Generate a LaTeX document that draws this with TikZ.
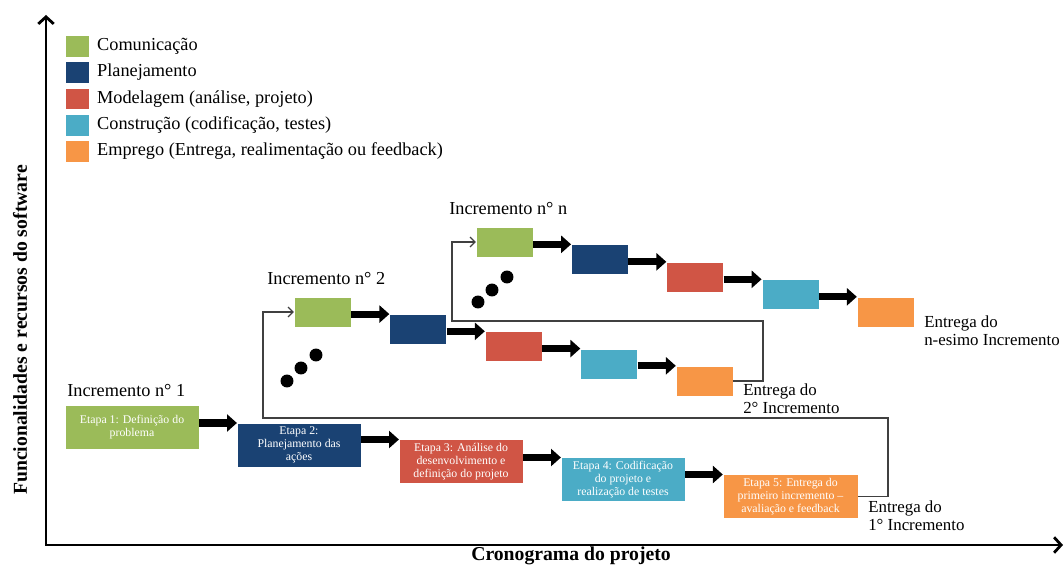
\documentclass[tikz,border=0pt]{standalone}
\usepackage{fontspec}
\setmainfont{Liberation Serif}
\usepackage{tikz}
\usetikzlibrary{arrows.meta,positioning}
\definecolor{comgreen}{HTML}{9BBB59}
\definecolor{planblue}{HTML}{1A4273}
\definecolor{modred}{HTML}{D05545}
\definecolor{constcyan}{HTML}{4BACC6}
\definecolor{empleorange}{HTML}{F79646}

\begin{document}
\begin{tikzpicture}[
x=0.025cm, y=-0.025cm,
axis/.style={line width=2pt, {Straight Barb[length=5pt,width=11pt]}-{Straight Barb[length=5pt,width=11pt]}},
etapa/.style={rectangle, draw=white, line width=0.3pt, minimum height=31pt, inner sep=1pt, align=center, text=white, font=\fontsize{8.4}{9.4}\selectfont},
bloco/.style={rectangle, draw=white, line width=0.3pt, minimum width=40.5pt, minimum height=21.3pt},
seta/.style={line width=5pt, -{Triangle[length=7pt,width=12pt]}},
retorno/.style={line width=0.9pt, draw=black!75, -{Straight Barb[length=3.5pt,width=7pt]}},
ponto/.style={circle, fill=black, minimum size=9.2pt, inner sep=0pt},
rotulo/.style={font=\fontsize{13}{15}\selectfont, anchor=west, inner sep=0pt},
entrega/.style={font=\fontsize{12}{13}\selectfont, align=left, anchor=west, inner sep=0pt},
eixo/.style={font=\fontsize{14}{16}\selectfont\bfseries}
]
\useasboundingbox (0,0) rectangle (1064,565);

\coordinate (topo) at (46,15);
\coordinate (origem) at (46,545);
\coordinate (fim) at (1063,545);
\draw[axis] (topo) -- (origem) -- (fim);
\node[eixo, rotate=90] (ylabel) at (20,330) {Funcionalidades e recursos do software};
\node[eixo] (xlabel) at (571,556) {Cronograma do projeto};

\foreach \c/\t [count=\i] in {comgreen/Comunicação, planblue/Planejamento, modred/{Modelagem (análise, projeto)}, constcyan/{Construção (codificação, testes)}, empleorange/{Emprego (Entrega, realimentação ou feedback)}} {
  \node[bloco, fill=\c, minimum width=17pt, minimum height=15.5pt] (cor\i) at (77,{20+26.25*\i}) {};
  \node[rotulo, right=5.5pt of cor\i] (leg\i) {\t};
}

\node[etapa, fill=comgreen, minimum width=95pt] (e1) at (132,427) {Etapa 1: Definição do\\problema};
\node[etapa, fill=planblue, minimum width=88pt] (e2) at (299,445) {Etapa 2:\\Planejamento das\\ações};
\node[etapa, fill=modred, minimum width=88pt] (e3) at (461,461.5) {Etapa 3: Análise do\\desenvolvimento e\\definição do projeto};
\node[etapa, fill=constcyan, minimum width=88pt] (e4) at (623,479.5) {Etapa 4: Codificação\\do projeto e\\realização de testes};
\node[etapa, fill=empleorange, minimum width=96pt] (e5) at (790.5,496.5) {Etapa 5: Entrega do\\primeiro incremento --\\avaliação e feedback};

\foreach \c [count=\i from 0] in {comgreen,planblue,modred,constcyan,empleorange} {
  \node[bloco, fill=\c] (a\i) at ({322.5+95.5*\i},{312+17.25*\i}) {};
  \node[bloco, fill=\c] (n\i) at ({504.5+95.25*\i},{242+17.5*\i}) {};
}

\foreach \i/\j in {1/2,2/3,3/4,4/5}
  \draw[seta] (e\i.east |- e\j.north west) -- (e\j.north west);
\foreach \i/\j in {0/1,1/2,2/3,3/4} {
  \draw[seta] (a\i.east |- a\j.north west) -- (a\j.north west);
  \draw[seta] (n\i.east |- n\j.north west) -- (n\j.north west);
}

\node[ponto] (p1) at (287,381) {};
\node[ponto] (p2) at (301,368) {};
\node[ponto] (p3) at (316,355) {};
\node[ponto] (q1) at (478,302) {};
\node[ponto] (q2) at (492,290) {};
\node[ponto] (q3) at (507,277) {};

\coordinate (volta1) at (888,418);
\coordinate (sobe1) at (263,418);
\draw[retorno] (e5.east) -| (volta1) -- (sobe1) |- (a0.west);
\coordinate (volta2) at (763,321);
\coordinate (sobe2) at (452,321);
\draw[retorno] (a4.east) -| (volta2) -- (sobe2) |- (n0.west);

\node[rotulo] (inc1) at (67,391) {Incremento n° 1};
\node[rotulo] (inc2) at (267,279) {Incremento n° 2};
\node[rotulo] (incn) at (449,209) {Incremento n° n};
\node[entrega] (ent1) at (868,516) {Entrega do\\1° Incremento};
\node[entrega] (ent2) at (743,399) {Entrega do\\2° Incremento};
\node[entrega] (entn) at (924,331) {Entrega do\\n-esimo Incremento};
\end{tikzpicture}
\end{document}
